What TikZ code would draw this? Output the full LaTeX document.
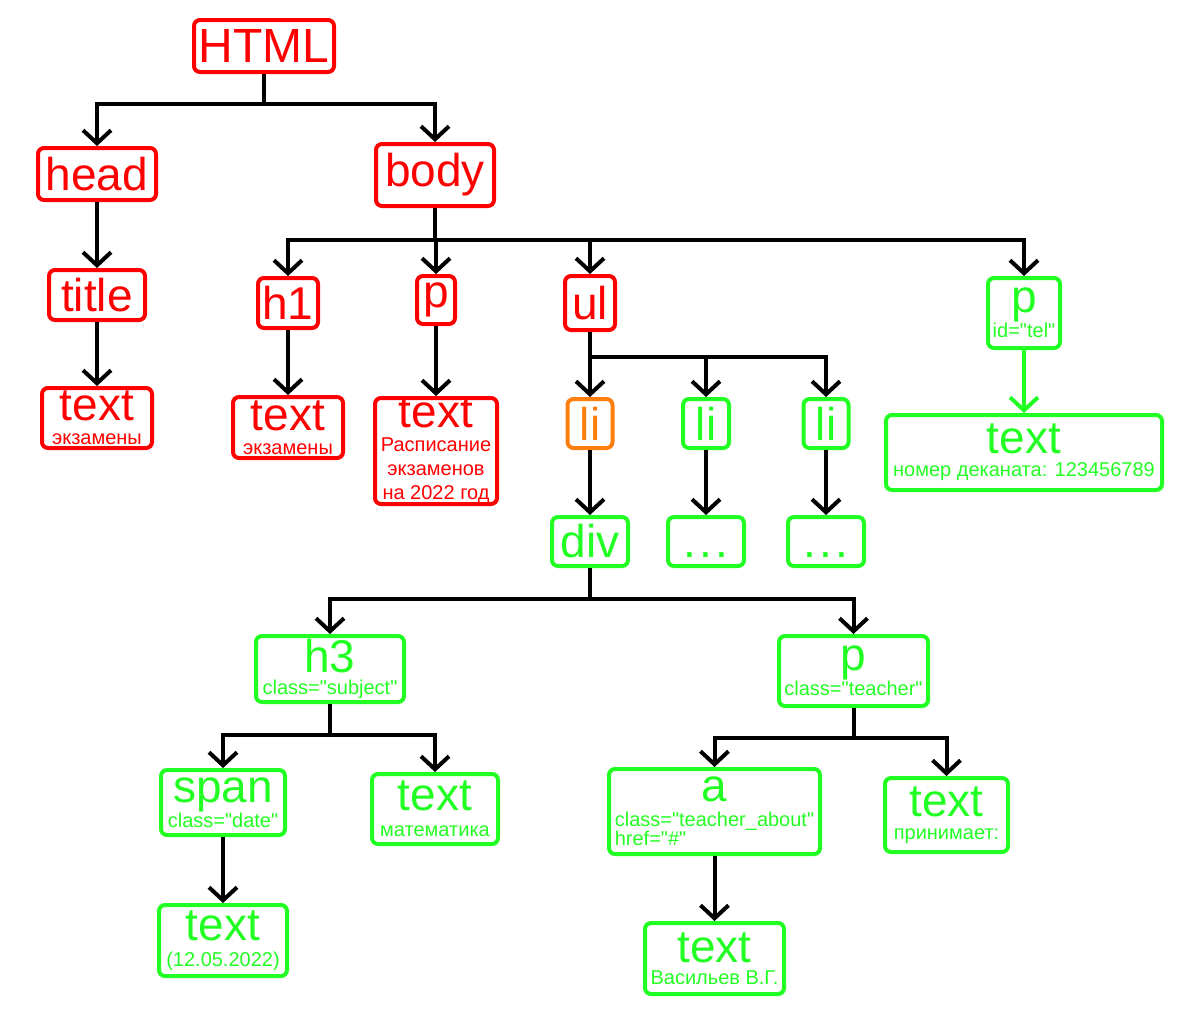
\documentclass[tikz,border=0pt]{standalone}
\usepackage{fontspec}
\setmainfont{Liberation Sans}[Ligatures=TeXOff]
\usetikzlibrary{arrows.meta}
\definecolor{cred}{RGB}{255,0,0}
\definecolor{cgreen}{RGB}{34,255,34}
\definecolor{corange}{RGB}{255,127,14}
\newcommand{\bigt}[1]{{\fontsize{46}{46}\selectfont #1}}
\begin{document}
\begin{tikzpicture}[x=1pt,y=-1pt,
  box/.style={draw=#1, text=#1, line width=4pt, rounded corners=6pt, inner sep=0pt,
    align=center, font=\fontsize{20}{21}\selectfont},
  single/.style={font=\fontsize{46}{46}\selectfont},
  dotsbox/.style={font=\fontsize{46}{46}\selectfont, text height=32pt, text depth=0pt},
  conn/.style={draw=black, line width=4pt, -{Straight Barb[length=13pt,width=28pt]}},
]
\useasboundingbox (0,0) rectangle (1188,1018);
% level 0-2
\node[box=cred, font=\fontsize{48}{48}\selectfont, minimum width=140pt, minimum height=52pt] (html) at (264,46) {HTML};
\node[box=cred, single, minimum width=118pt, minimum height=52pt] (head) at (97,174) {head};
\node[box=cred, single, minimum width=118pt, minimum height=62pt] (body) at (435,175) {body};
\node[box=cred, single, minimum width=96pt, minimum height=50pt] (title) at (97,295) {title};
\node[box=cred, minimum width=110pt, minimum height=60pt] (text1) at (97,418) {\bigt{text}\\[3pt]экзамены};
% body children
\node[box=cred, single, minimum width=60pt, minimum height=50pt] (h1) at (288,303) {h1};
\node[box=cred, single, minimum width=38pt, minimum height=48pt] (p1) at (436,300) {p};
\node[box=cred, single, minimum width=50pt, minimum height=54pt] (ul) at (590,303) {ul};
\node[box=cgreen, minimum width=72pt, minimum height=70pt] (ptel) at (1024,313) {\bigt{p}\\id="tel"};
\node[box=cred, minimum width=110pt, minimum height=61pt] (text2) at (288,427.5) {\bigt{text}\\[3pt]экзамены};
\node[box=cred, minimum width=122pt, minimum height=106pt] (text3) at (436,451) {\bigt{text}\\[3pt]Расписание\\[3pt]экзаменов\\[3pt]на 2022 год};
\node[box=cgreen, minimum width=276pt, minimum height=75pt] (text4) at (1024,452.5) {\bigt{text}\\[2pt]номер деканата: 123456789};
% list items
\node[box=corange, single, minimum width=45pt, minimum height=49pt] (li1) at (590,423.5) {li};
\node[box=cgreen, single, minimum width=46pt, minimum height=49pt] (li2) at (706,423.5) {li};
\node[box=cgreen, single, minimum width=45pt, minimum height=49pt] (li3) at (826,423.5) {li};
\node[box=cgreen, single, minimum width=76pt, minimum height=49pt] (div) at (590,541.5) {div};
\node[box=cgreen, dotsbox, minimum width=76pt, minimum height=49pt] (dots1) at (706,541.5) {.\hspace{3pt}.\hspace{3pt}.};
\node[box=cgreen, dotsbox, minimum width=76pt, minimum height=49pt] (dots2) at (826,541.5) {.\hspace{3pt}.\hspace{3pt}.};
% div subtree
\node[box=cgreen, minimum width=148pt, minimum height=66pt] (h3) at (330,669) {\bigt{h3}\\[1pt]class="subject"};
\node[box=cgreen, minimum width=149pt, minimum height=70pt] (pt) at (853.5,671) {\bigt{p}\\class="teacher"};
\node[box=cgreen, minimum width=124pt, minimum height=65pt] (span) at (223,802.5) {\bigt{span}\\class="date"};
\node[box=cgreen, minimum width=126pt, minimum height=70pt] (textm) at (435,809) {\bigt{text}\\[5pt]математика};
\node[box=cgreen, minimum width=128pt, minimum height=71pt] (text12) at (223,940.5) {\bigt{text}\\[5pt](12.05.2022)};
\node[box=cgreen, align=left, minimum width=211pt, minimum height=85pt] (a) at (714.5,811.5) {\hspace*{87pt}\bigt{a}\\[4pt]class="teacher\_about"\\[-2pt]href="\#"};
\node[box=cgreen, minimum width=123pt, minimum height=74pt] (textp) at (946.5,815) {\bigt{text}\\[2pt]принимает:};
\node[box=cgreen, minimum width=139pt, minimum height=71pt] (textv) at (714.5,958.5) {\bigt{text}\\[1pt]Васильев В.Г.};
% connectors
\draw[conn] (html.south) -- ++(0,30) -| (head.north);
\draw[conn] (html.south) -- ++(0,30) -| (body.north);
\draw[conn] (head) -- (title);
\draw[conn] (title) -- (text1);
\draw[conn] (body.south) -- ++(0,32) -| (h1.north);
\draw[conn] (body.south) -- ++(0,32) -| (p1.north);
\draw[conn] (body.south) -- ++(0,32) -| (ul.north);
\draw[conn] (body.south) -- ++(0,32) -| (ptel.north);
\draw[conn] (h1) -- (text2);
\draw[conn] (p1) -- (text3);
\draw[conn, draw=cgreen] (ptel) -- (text4);
\draw[conn] (ul) -- (li1);
\draw[conn] (ul.south) -- ++(0,25) -| (li2.north);
\draw[conn] (ul.south) -- ++(0,25) -| (li3.north);
\draw[conn] (li1) -- (div);
\draw[conn] (li2) -- (dots1);
\draw[conn] (li3) -- (dots2);
\draw[conn] (div.south) -- ++(0,31) -| (h3.north);
\draw[conn] (div.south) -- ++(0,31) -| (pt.north);
\draw[conn] (h3.south) -- ++(0,31) -| (span.north);
\draw[conn] (h3.south) -- ++(0,31) -| (textm.north);
\draw[conn] (pt.south) -- ++(0,30) -| (a.north);
\draw[conn] (pt.south) -- ++(0,30) -| (textp.north);
\draw[conn] (span) -- (text12);
\draw[conn] (a) -- (textv);
\end{tikzpicture}
\end{document}
